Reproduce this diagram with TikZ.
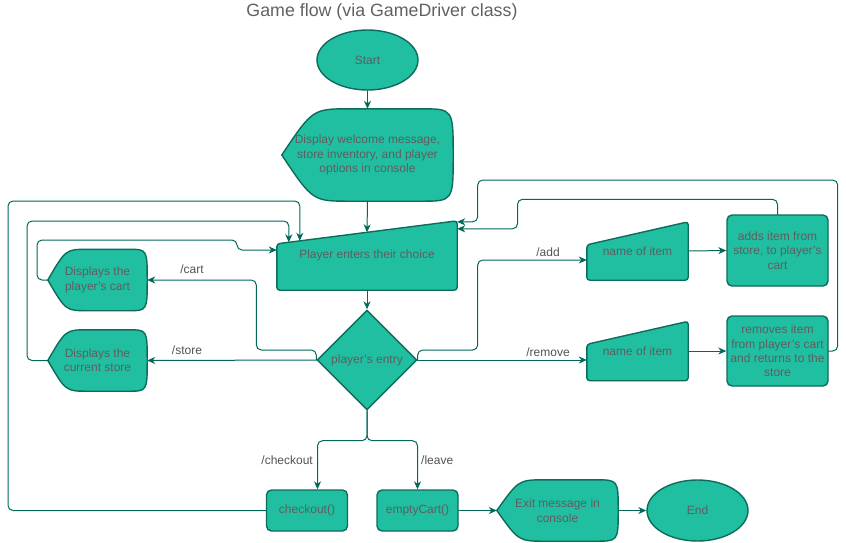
\documentclass[tikz,border=0pt]{standalone}
\usepackage{fontspec}
\setmainfont{Liberation Sans}
\usepackage{tikz}
\usetikzlibrary{arrows.meta,calc,positioning,shapes.geometric,backgrounds}
\definecolor{gfteal}{HTML}{21BFA2}
\definecolor{gfedge}{HTML}{0D6B5C}
\definecolor{gfline}{HTML}{00695A}
\definecolor{gftext}{HTML}{5E5E5E}
\tikzset{
  >={Stealth[length=8pt,width=7pt,inset=2.5pt]},
  every picture/.style={line cap=round, line join=round},
  txt/.style={font=\fontsize{12}{14.4}\selectfont, text=gftext, align=center, inner sep=0pt},
  lbl/.style={font=\fontsize{12}{14.4}\selectfont, text=black!68, inner sep=0pt},
  headline/.style={font=\fontsize{17.8}{20}\selectfont, text=black!62, inner sep=0pt},
  flowline/.style={gfline, line width=1pt, rounded corners=5pt},
  flowarrow/.style={flowline, ->},
  shapefill/.style={draw=gfedge, fill=gfteal, line width=1.4pt},
  terminal/.style={txt, ellipse, shapefill},
  procbox/.style={txt, rectangle, rounded corners=5pt, shapefill},
  decision/.style={txt, diamond, shapefill},
  holder/.style={txt, rectangle},
}
% outline of a "display" node: pointed left, rounded right
\newcommand{\dispoutline}[1]{%
  \path[shapefill] (#1.west)
    .. controls ($(#1.north west)!0.18!(#1.north east)$) .. ($(#1.north west)!0.4!(#1.north east)$)
    -- ($(#1.north west)!0.81!(#1.north east)$)
    .. controls (#1.north east) .. (#1.east)
    .. controls (#1.south east) .. ($(#1.south west)!0.81!(#1.south east)$)
    -- ($(#1.south west)!0.4!(#1.south east)$)
    .. controls ($(#1.south west)!0.18!(#1.south east)$) .. (#1.west) -- cycle;}
% outline of a "manual input" node: sloped top
\newcommand{\manoutline}[1]{%
  \path[shapefill, rounded corners=3pt] (#1.south west) -- ([yshift=-23pt]#1.north west)
    -- (#1.north east) -- (#1.south east) -- cycle;}

\begin{document}
\begin{tikzpicture}[x=1pt, y=-1pt]
\useasboundingbox (0,0) rectangle (846,542);
\node[headline] (title) at (382,12) {Game flow (via GameDriver class)};
% main column
\node[terminal, minimum width=101pt, minimum height=60pt] (start) at (367.5,60) {Start};
\node[holder, minimum width=171pt, minimum height=92pt] (welcome) at (367.5,155)
  {Display welcome message,\\store inventory, and player\\options in console};
\node[holder, minimum width=180pt, minimum height=69pt] (choice) at (367,255.5)
  {Player enters their choice};
\node[decision, minimum width=100pt, minimum height=100pt] (entry) at (367,360) {player's entry};
% left side
\node[holder, minimum width=99pt, minimum height=61pt] (cart) at (97.5,280)
  {Displays the\\player's cart};
\node[holder, minimum width=99pt, minimum height=61pt] (store) at (97.5,360.5)
  {Displays the\\current store};
% right side
\node[holder, minimum width=101pt, minimum height=58pt] (addname) at (637.5,251) {name of item};
\node[procbox, minimum width=101pt, minimum height=71pt] (additem) at (777.5,250.5)
  {adds item from\\store, to player's\\cart};
\node[holder, minimum width=101pt, minimum height=59pt] (remname) at (637.5,351) {name of item};
\node[procbox, minimum width=101pt, minimum height=70pt] (remitem) at (777.5,351)
  {removes item\\from player's cart\\and returns to the\\store};
% bottom row
\node[procbox, minimum width=81pt, minimum height=41pt] (checkout) at (307,510.5) {checkout()};
\node[procbox, minimum width=81pt, minimum height=41pt] (emptycart) at (417.5,510.5) {emptyCart()};
\node[holder, minimum width=121pt, minimum height=61pt] (exit) at (557.5,510.5)
  {Exit message in\\console};
\node[terminal, minimum width=101pt, minimum height=61pt] (end) at (697.5,510.5) {End};
% drawn outlines
\begin{scope}[on background layer]
  \foreach \n in {welcome,cart,store,exit} {\dispoutline{\n}}
  \foreach \n in {choice,addname,remname} {\manoutline{\n}}
\end{scope}
% labels
\node[lbl] (lcart) at (192,269) {/cart};
\node[lbl] (lstore) at (187,350) {/store};
\node[lbl] (ladd) at (548,252) {/add};
\node[lbl] (lremove) at (548,352) {/remove};
\node[lbl, anchor=east] (lcheckout) at (313,460) {/checkout};
\node[lbl, anchor=west] (lleave) at (421,460) {/leave};
% connectors
\draw[flowarrow] (start.south) -- (welcome.north);
\draw[flowarrow] (welcome.south) -- ([yshift=-11.5pt]choice.north);
\draw[flowarrow] (choice.south) -- (entry.north);
\draw[flowarrow] (entry.west) -- (store.east);
\draw[flowarrow] (entry.west) -- ++(0,-10) -- ++(-60,0) |- (cart.east);
\draw[flowarrow] (entry.east) -- ++(0,-10) -- ++(60,0) |- ([yshift=-9pt]addname.west);
\draw[flowarrow] (entry.east) -- (entry.east -| remname.west);
\draw[flowarrow] (addname.east) -- (additem.west);
\draw[flowarrow] (remname.east) -- (remitem.west);
\draw[flowarrow] (additem.north) -- ++(0,-15) -- ++(-260,0) |- ([yshift=-8pt]choice.north east);
\draw[flowarrow] (remitem.east) -- ++(9,0) -- ++(0,-171) -- ++(-360,0) |- ([yshift=-1pt]choice.north east);
\draw[flowarrow] (cart.west) -| (37,240) -- (237,240) |- ([yshift=5.5pt]choice.west);
\draw[flowarrow] (store.west) -| (27,221) -| ([xshift=12pt,yshift=-21.5pt]choice.north west);
\draw[flowarrow] (checkout.west) -| (8,201) -| ([xshift=23pt,yshift=-20pt]choice.north west);
\draw[flowarrow] (entry.south) -- ++(0,30) -| ([xshift=10.5pt]checkout.north);
\draw[flowarrow] (entry.south) -- ++(0,30) -| (emptycart.north);
\draw[flowarrow] (emptycart.east) -- (exit.west);
\draw[flowarrow] (exit.east) -- (end.west);
\end{tikzpicture}
\end{document}
